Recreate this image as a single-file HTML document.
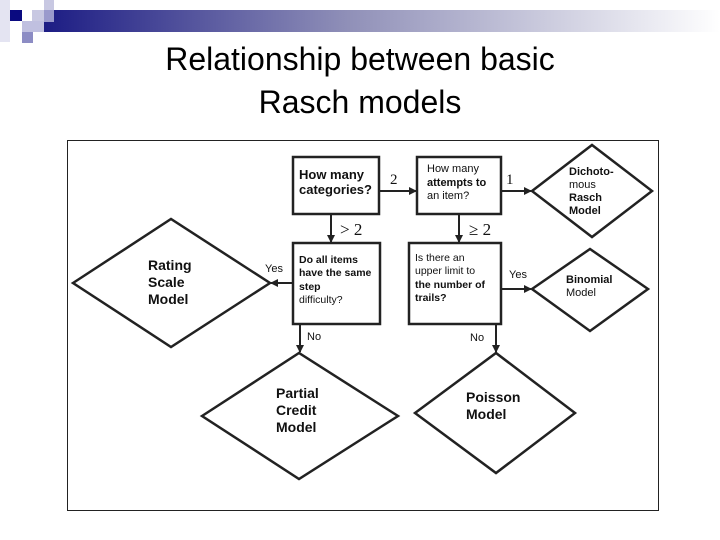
<!DOCTYPE html>
<html><head><meta charset="utf-8"><style>
html,body{margin:0;padding:0;background:#fff;}
svg{display:block;}
</style></head><body>
<svg width="720" height="540" viewBox="0 0 720 540" xmlns="http://www.w3.org/2000/svg" font-family="Liberation Sans, Arial, sans-serif">
<defs>
<linearGradient id="g" x1="0" x2="1" y1="0" y2="0">
<stop offset="0" stop-color="#1c1c84"/><stop offset="0.45" stop-color="#9090b8"/><stop offset="1" stop-color="#ffffff"/>
</linearGradient>
<marker id="a" markerWidth="8" markerHeight="8" refX="7" refY="4" orient="auto" markerUnits="userSpaceOnUse">
<path d="M0,0 L8,4 L0,8 z" fill="#222"/></marker>
</defs>
<rect x="44" y="10" width="676" height="22" fill="url(#g)"/>
<rect x="0" y="0" width="10" height="42" fill="#e4e4f2"/>
<rect x="10" y="10" width="12" height="11" fill="#0a0a80"/>
<rect x="32" y="10" width="12" height="11" fill="#c8c8e2"/>
<rect x="44" y="0" width="10" height="10" fill="#c8c8e2"/>
<rect x="44" y="10" width="10" height="12" fill="#9a9acc"/>
<rect x="22" y="21" width="22" height="11" fill="#c0c0e0"/>
<rect x="22" y="32" width="11" height="11" fill="#8c8cc4"/>
<text x="360" y="70" font-size="32" text-anchor="middle" fill="#000">Relationship between basic</text>
<text x="360" y="113" font-size="32" text-anchor="middle" fill="#000">Rasch models</text>
<rect x="67.5" y="140.5" width="591" height="370" fill="#fff" stroke="#222" stroke-width="1"/>
<g fill="#fff" stroke="#222" stroke-width="2.5">
<rect x="293" y="157" width="86" height="57"/>
<rect x="417" y="157" width="84" height="57"/>
<rect x="293" y="243" width="87" height="81"/>
<rect x="409" y="243" width="92" height="81"/>
<polygon points="532,191 592,145 652,191 592,237"/>
<polygon points="73,283 171,219 270,283 171,347"/>
<polygon points="532,289 590,249 648,289 590,331"/>
<polygon points="202,416 299,353 398,416 299,479"/>
<polygon points="415,413 496,353 575,413 496,473"/>
</g>
<g stroke="#222" stroke-width="2" marker-end="url(#a)">
<line x1="379" y1="191" x2="416" y2="191"/>
<line x1="501" y1="191" x2="531" y2="191"/>
<line x1="331" y1="214" x2="331" y2="242"/>
<line x1="459" y1="214" x2="459" y2="242"/>
<line x1="293" y1="283" x2="271" y2="283"/>
<line x1="501" y1="289" x2="531" y2="289"/>
<line x1="300" y1="324" x2="300" y2="352"/>
<line x1="496" y1="324" x2="496" y2="352"/>
</g>
<g fill="#111" font-size="12">
<text x="299" y="179" font-size="13" font-weight="bold">How many</text>
<text x="299" y="194" font-size="13" font-weight="bold">categories?</text>
<text x="427" y="172" font-size="11">How many</text>
<text x="427" y="186" font-size="11" font-weight="bold">attempts to</text>
<text x="427" y="199" font-size="11">an item?</text>
<text x="569" y="175" font-size="11" font-weight="bold">Dichoto-</text>
<text x="569" y="188" font-size="11">mous</text>
<text x="569" y="201" font-size="11" font-weight="bold">Rasch</text>
<text x="569" y="214" font-size="11" font-weight="bold">Model</text>
<text x="299" y="263" font-size="10.5" font-weight="bold">Do all items</text>
<text x="299" y="276" font-size="10.5" font-weight="bold">have the same</text>
<text x="299" y="290" font-size="10.5" font-weight="bold">step</text>
<text x="299" y="303" font-size="10.5">difficulty?</text>
<text x="415" y="261" font-size="10.5">Is there an</text>
<text x="415" y="274" font-size="10.5">upper limit to</text>
<text x="415" y="288" font-size="10.5" font-weight="bold">the number of</text>
<text x="415" y="301" font-size="10.5" font-weight="bold">trails?</text>
<text x="148" y="270" font-size="14" font-weight="bold">Rating</text>
<text x="148" y="287" font-size="14" font-weight="bold">Scale</text>
<text x="148" y="304" font-size="14" font-weight="bold">Model</text>
<text x="566" y="283" font-size="11" font-weight="bold">Binomial</text>
<text x="566" y="296" font-size="11">Model</text>
<text x="276" y="398" font-size="14" font-weight="bold">Partial</text>
<text x="276" y="415" font-size="14" font-weight="bold">Credit</text>
<text x="276" y="432" font-size="14" font-weight="bold">Model</text>
<text x="466" y="402" font-size="14" font-weight="bold">Poisson</text>
<text x="466" y="419" font-size="14" font-weight="bold">Model</text>
<text x="265" y="272" font-size="11">Yes</text>
<text x="509" y="278" font-size="11">Yes</text>
<text x="307" y="340" font-size="11">No</text>
<text x="470" y="341" font-size="11">No</text>
<text x="390" y="184" font-size="15" font-family="Liberation Serif, serif">2</text>
<text x="506" y="184" font-size="15" font-family="Liberation Serif, serif">1</text>
<text x="340" y="235" font-size="17" font-family="Liberation Serif, serif">&gt; 2</text>
<text x="469" y="235" font-size="17" font-family="Liberation Serif, serif">≥ 2</text>
</g>
</svg>
</body></html>
